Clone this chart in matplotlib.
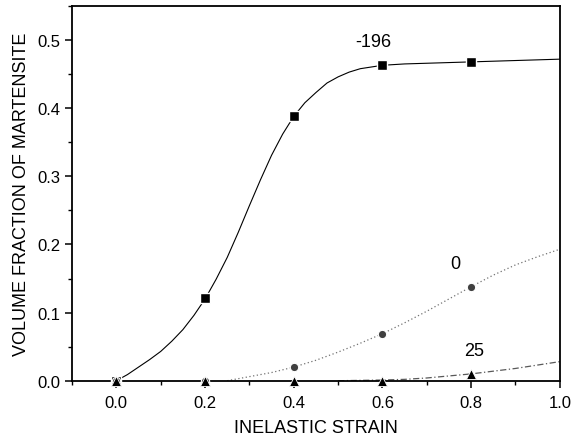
import matplotlib
matplotlib.use("Agg")
import matplotlib.pyplot as plt
from matplotlib.ticker import MultipleLocator

plt.rcParams['font.family'] = ['Liberation Sans', 'DejaVu Sans']

# measured points (inelastic strain, volume fraction)
strain_m196 = [0.0, 0.2, 0.4, 0.6, 0.8]
frac_m196 = [0.0, 0.121, 0.388, 0.464, 0.468]
strain_0 = [0.0, 0.2, 0.4, 0.6, 0.8]
frac_0 = [0.0, 0.0, 0.020, 0.069, 0.138]
strain_25 = [0.0, 0.2, 0.4, 0.6, 0.8]
frac_25 = [0.0, 0.0, 0.0, 0.0, 0.010]

# fitted curves
fit_x_m196 = [0.0, 0.025, 0.05, 0.075, 0.10, 0.125, 0.15, 0.175, 0.20, 0.225, 0.25,
              0.275, 0.30, 0.325, 0.35, 0.375, 0.40, 0.425, 0.45, 0.475, 0.50,
              0.525, 0.55, 0.60, 0.65, 0.70, 0.75, 0.80, 0.85, 0.90, 0.95, 1.00]
fit_y_m196 = [0.0, 0.009, 0.020, 0.031, 0.043, 0.058, 0.075, 0.096, 0.120, 0.149, 0.181,
              0.218, 0.257, 0.295, 0.331, 0.362, 0.388, 0.408, 0.423, 0.437, 0.446,
              0.453, 0.458, 0.463, 0.465, 0.466, 0.467, 0.468, 0.469, 0.470, 0.471, 0.472]
fit_x_0 = [0.25, 0.30, 0.35, 0.40, 0.45, 0.50, 0.55, 0.60, 0.65, 0.70, 0.75,
           0.80, 0.85, 0.90, 0.95, 1.00]
fit_y_0 = [0.0, 0.006, 0.012, 0.020, 0.030, 0.042, 0.055, 0.069, 0.085, 0.102, 0.120,
           0.138, 0.155, 0.170, 0.182, 0.193]
fit_x_25 = [0.50, 0.55, 0.60, 0.65, 0.70, 0.75, 0.80, 0.85, 0.90, 0.95, 1.00]
fit_y_25 = [0.0, 0.0005, 0.001, 0.002, 0.004, 0.007, 0.010, 0.014, 0.018, 0.023, 0.028]

fig = plt.figure(figsize=(5.73, 4.39), dpi=100)
ax = fig.add_axes([0.1257, 0.1305, 0.8513, 0.8535])

# curves
ax.plot(fit_x_m196, fit_y_m196, color='black', lw=0.8)
ax.plot(fit_x_0, fit_y_0, color='0.45', lw=0.9, linestyle=(0, (1, 2)))
ax.plot(fit_x_25, fit_y_25, color='0.35', lw=0.9, linestyle=(0, (5, 2, 1, 2)))

# symbols, white rim gives the little gap in the line
ax.plot(strain_m196, frac_m196, 's', color='black', ms=6.5, mec='white', mew=1.0,
        clip_on=False, zorder=4)
ax.plot(strain_0, frac_0, 'o', color='0.25', ms=6, mec='white', mew=0.8,
        clip_on=False, zorder=4)
ax.plot(strain_25, frac_25, '^', color='black', ms=7, mec='white', mew=0.6,
        clip_on=False, zorder=5)

ax.text(0.58, 0.498, '-196', fontsize=13, ha='center', va='center')
ax.text(0.764, 0.172, '0', fontsize=13, ha='center', va='center')
ax.text(0.807, 0.045, '25', fontsize=13, ha='center', va='center')

ax.set_xlim(-0.1, 1.0)
ax.set_ylim(0.0, 0.55)
ax.xaxis.set_major_locator(MultipleLocator(0.2))
ax.xaxis.set_minor_locator(MultipleLocator(0.1))
ax.yaxis.set_major_locator(MultipleLocator(0.1))
ax.yaxis.set_minor_locator(MultipleLocator(0.05))
ax.xaxis.set_major_formatter(plt.FormatStrFormatter('%.1f'))
ax.yaxis.set_major_formatter(plt.FormatStrFormatter('%.1f'))
ax.tick_params(which='major', direction='out', length=5, width=1.1, labelsize=12)
ax.tick_params(which='minor', direction='out', length=3, width=1.0)
ax.tick_params(axis='x', pad=5)

for s in ax.spines.values():
    s.set_linewidth(1.3)

ax.set_xlabel('INELASTIC STRAIN', fontsize=13, labelpad=7)
ax.set_ylabel('VOLUME FRACTION OF MARTENSITE', fontsize=13, labelpad=5)

fig.savefig('out.png', dpi=100)
